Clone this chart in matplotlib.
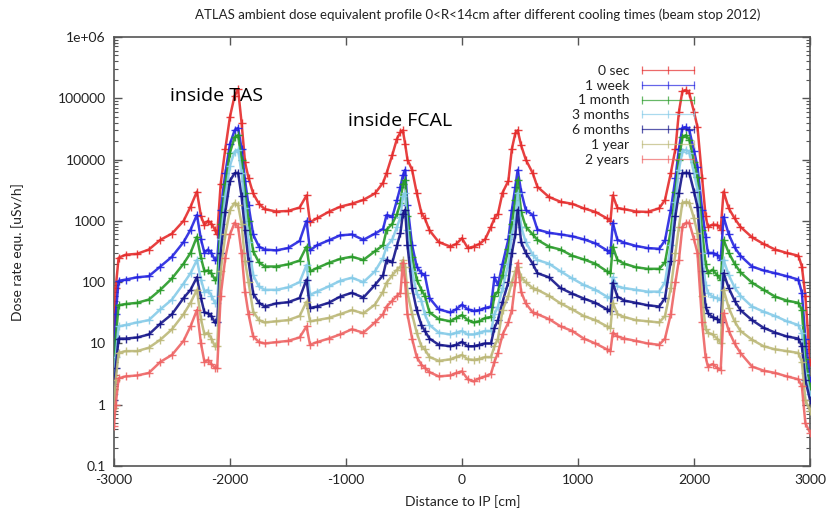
import matplotlib
matplotlib.use('Agg')
import matplotlib.pyplot as plt
from matplotlib.lines import Line2D
from matplotlib.ticker import FixedLocator, LogLocator, NullFormatter

# distance to IP [cm]
distance = [-3000, -2985, -2960, -2900, -2800, -2700, -2600, -2500, -2400, -2340,
            -2285, -2250, -2220, -2190, -2160, -2130, -2110, -2080, -2040, -2000,
            -1960, -1930, -1900, -1870, -1840, -1800, -1750, -1700, -1600, -1500,
            -1400, -1340, -1310, -1250, -1150, -1050, -950, -850, -750, -680,
            -650, -600, -560, -530, -510, -490, -470, -430, -390, -350,
            -320, -280, -200, -100, -50, 0, 50, 100, 150, 200,
            250, 280, 310, 350, 400, 430, 460, 480, 510, 550,
            610, 650, 750, 850, 950, 1050, 1150, 1250, 1280, 1300,
            1340, 1400, 1500, 1600, 1700, 1750, 1800, 1840, 1870, 1900,
            1930, 1960, 2000, 2030, 2070, 2100, 2120, 2160, 2200, 2230,
            2255, 2300, 2350, 2400, 2500, 2600, 2700, 2800, 2900, 2930,
            2960, 3000]

# dose rate [uSv/h] per cooling time
dose_0sec = [3, 80, 250, 280, 290, 340, 490, 620, 1000, 1700,
             3000, 1200, 850, 1000, 900, 716, 600, 4000, 15000, 50000,
             110000, 140000, 40000, 9000, 5000, 2800, 1900, 1550, 1420, 1450,
             1650, 2600, 950, 1100, 1400, 1700, 1900, 2200, 2800, 4200,
             6000, 12000, 22000, 28000, 30000, 18000, 10000, 6800, 2850, 1350,
             1100, 700, 450, 380, 420, 520, 360, 380, 420, 500,
             800, 1100, 1300, 2900, 4500, 15000, 27000, 30000, 17000, 10000,
             6000, 3600, 2450, 2050, 1900, 1600, 1400, 1100, 1000, 2600,
             1620, 1550, 1420, 1400, 1600, 2200, 6000, 15000, 60000, 130000,
             137000, 120000, 60000, 34000, 5000, 1200, 800, 870, 860, 720,
             3000, 1600, 1100, 800, 540, 420, 340, 300, 270, 180,
             60, 5]
dose_1week = [2.2, 30, 105, 110, 120, 125, 180, 260, 450, 716,
              1250, 500, 300, 340, 300, 230, 230, 1500, 6000, 18000,
              30000, 33000, 15000, 4500, 1800, 600, 380, 340, 330, 360,
              470, 1000, 330, 400, 480, 580, 600, 490, 620, 740,
              1250, 1160, 2200, 3600, 5500, 6800, 1800, 400, 180, 140,
              130, 55, 36, 32, 36, 43, 36, 34, 35, 38,
              40, 120, 90, 200, 500, 1500, 3600, 6800, 3000, 1500,
              1250, 720, 640, 600, 560, 500, 430, 330, 300, 930,
              490, 440, 390, 360, 350, 480, 1500, 5000, 15000, 33000,
              34000, 30000, 14000, 7700, 1520, 550, 300, 300, 280, 230,
              1160, 600, 370, 270, 180, 155, 140, 125, 110, 67,
              12, 2.5]
dose_1month = [1.8, 12, 42, 44, 46, 52, 75, 115, 200, 300,
               550, 250, 150, 155, 140, 110, 110, 900, 4000, 13000,
               23000, 25000, 10000, 2800, 1000, 320, 210, 180, 180, 195,
               225, 380, 150, 170, 205, 240, 260, 230, 320, 400,
               716, 900, 1300, 1970, 4000, 4700, 1200, 260, 110, 75,
               60, 32, 25, 23, 26, 29, 24, 22, 23, 26,
               27, 60, 70, 130, 350, 900, 2200, 4700, 1400, 800,
               600, 490, 380, 340, 270, 235, 200, 150, 140, 380,
               230, 200, 175, 165, 165, 210, 700, 3000, 10000, 23000,
               25000, 21000, 9000, 5200, 700, 200, 140, 160, 130, 110,
               490, 300, 200, 145, 98, 75, 58, 50, 46, 35,
               5.5, 2]
dose_3months = [1.5, 6, 19, 20, 22, 24, 36, 52, 95, 140,
                230, 110, 70, 75, 60, 46, 46, 500, 2500, 8000,
                13500, 14500, 6000, 1600, 450, 130, 85, 75, 75, 82,
                100, 190, 62, 70, 85, 105, 118, 100, 150, 250,
                380, 500, 800, 1160, 2500, 2850, 700, 150, 65, 50,
                30, 20, 15, 14, 15, 16, 14, 14, 15, 16,
                16, 30, 40, 80, 200, 600, 1050, 2850, 800, 450,
                280, 230, 200, 150, 115, 90, 75, 58, 55, 120,
                85, 80, 75, 70, 70, 100, 400, 2000, 6800, 13500,
                14500, 13000, 6000, 3200, 300, 90, 67, 58, 55, 52,
                230, 130, 82, 60, 40, 33, 28, 23, 20, 15,
                3.3, 1.5]
dose_6months = [1.2, 4, 12, 12, 12.5, 14, 21, 30, 55, 75,
                120, 55, 32, 31, 28, 22, 22, 300, 1400, 4500,
                6000, 6100, 2500, 700, 220, 65, 46, 40, 45, 47,
                55, 110, 38, 40, 46, 58, 67, 56, 90, 130,
                230, 210, 400, 640, 1300, 1520, 400, 80, 35, 20,
                16, 12, 9.5, 9, 9.5, 10.6, 9, 9, 9.5, 10,
                10, 18, 24, 48, 100, 300, 600, 1520, 450, 300,
                200, 140, 120, 80, 65, 54, 46, 36, 34, 98,
                58, 50, 46, 42, 40, 55, 220, 1200, 2850, 6000,
                6100, 6000, 3000, 1700, 150, 40, 31, 27, 25, 22,
                140, 80, 50, 35, 24, 18, 15, 13, 12, 9,
                2.5, 1.2]
dose_1year = [0.9, 2.5, 7, 7.5, 7.5, 8.5, 11.5, 17, 30, 46,
              75, 25, 14, 15, 12, 9, 9, 150, 600, 1500,
              1970, 1800, 900, 220, 100, 33, 24, 22, 23, 24,
              28, 48, 23, 24, 26, 30, 35, 31, 43, 70,
              98, 130, 160, 180, 230, 180, 67, 30, 15, 9,
              8, 6, 5.2, 5.5, 6, 6.5, 5.5, 5.4, 5.6, 6,
              6, 9, 12, 35, 60, 100, 150, 180, 120, 100,
              80, 75, 60, 45, 36, 28, 24, 19, 18, 46,
              30, 27, 24, 23, 22, 28, 80, 300, 800, 1970,
              2050, 1970, 1100, 640, 60, 17, 15, 14, 12, 10,
              75, 38, 23, 16, 11.5, 9, 8, 7.5, 7, 5,
              1.2, 0.8]
dose_2years = [0.45, 1.0, 2.7, 2.9, 3.0, 3.3, 5, 6.5, 11, 19,
               35, 10, 5, 5.4, 4.6, 4, 4, 60, 250, 600,
               930, 800, 300, 70, 30, 13, 10.5, 10, 10.5, 11,
               12.5, 19, 9.5, 10.5, 12, 14, 17, 15, 22, 30,
               40, 50, 60, 67, 207, 100, 30, 12, 6, 4.5,
               4, 3.4, 2.9, 3.0, 3.3, 3.5, 2.6, 2.4, 2.7, 2.9,
               3.2, 5, 7, 14, 22, 35, 100, 207, 70, 45,
               32, 30, 25, 19, 16, 12, 10, 8, 7.5, 15,
               13, 12, 11, 10, 9.5, 12, 30, 100, 230, 800,
               930, 930, 500, 300, 22, 6, 4.2, 4.6, 4.0, 3.7,
               31, 16, 10, 7, 4.2, 3.6, 3.3, 2.9, 2.6, 2.0,
               0.5, 0.35]

labels = ['0 sec', '1 week', '1 month', '3 months', '6 months', '1 year', '2 years']
series = [dose_0sec, dose_1week, dose_1month, dose_3months,
          dose_6months, dose_1year, dose_2years]
colors = ['#e52b2b', '#2424e0', '#279a27', '#86cbe8', '#14148a', '#bcb878', '#ee6464']

ytick_vals = [0.1, 1, 10, 100, 1000, 10000, 100000, 1e6]
ytick_text = ['0.1', '1', '10', '100', '1000', '10000', '100000', '1e+06']
xtick_vals = [-3000, -2000, -1000, 0, 1000, 2000, 3000]

plt.rcParams['font.family'] = ['Lato', 'DejaVu Sans']
TEXT = '#222222'
FRAME = '#555555'

fig = plt.figure(figsize=(8.3, 5.19), dpi=100)
ax = fig.add_axes([0.1373, 0.1021, 0.8386, 0.8266])

for vals, col in zip(series, colors):
    ax.plot(distance, vals, color=col, lw=1.8, marker='+', ms=6, mew=1.0,
            alpha=0.9, zorder=3)

ax.set_yscale('log')
ax.set_xlim(-3000, 3000)
ax.set_ylim(0.1, 1e6)
ax.yaxis.set_major_locator(FixedLocator(ytick_vals))
ax.set_yticklabels(ytick_text)
ax.yaxis.set_minor_locator(LogLocator(base=10, subs=range(2, 10)))
ax.yaxis.set_minor_formatter(NullFormatter())
ax.set_xticks(xtick_vals)
ax.set_xticklabels([str(v) for v in xtick_vals])

ax.tick_params(which='both', direction='in', top=True, right=True,
               colors=FRAME, labelcolor=TEXT, labelsize=10)
ax.tick_params(which='major', length=6, width=1)
ax.tick_params(which='minor', length=3, width=0.8)
ax.tick_params(axis='y', pad=6)
ax.tick_params(axis='x', pad=6)
for sp in ax.spines.values():
    sp.set_color(FRAME)
    sp.set_linewidth(1.2)

# legend (gnuplot style: label then sample)
handles = [Line2D([], [], color=c, lw=0.9, marker='|', ms=6, mew=0.9, alpha=0.7)
           for c in colors]
ax.legend(handles, labels, loc='upper right', bbox_to_anchor=(0.848, 0.948),
          frameon=False, markerfirst=False, numpoints=3, handlelength=4.4,
          handletextpad=0.6, labelspacing=0.2, fontsize=10,
          borderaxespad=0, labelcolor=TEXT)

# annotations
ax.text(-2520, 90000, 'inside TAS', fontsize=14, color='black',
        family=['Open Sans', 'DejaVu Sans'], va='baseline')
ax.text(-980, 35000, 'inside FCAL', fontsize=14, color='black',
        family=['Open Sans', 'DejaVu Sans'], va='baseline')

fig.text(0.576, 0.972,
         'ATLAS ambient dose equivalent profile 0<R<14cm after different cooling times (beam stop 2012)',
         ha='center', va='center', fontsize=9.5, color=TEXT)
fig.text(0.557, 0.034, 'Distance to IP [cm]', ha='center', va='center',
         fontsize=10, color=TEXT)
fig.text(0.021, 0.515, 'Dose rate equ. [uSv/h]', ha='center', va='center',
         rotation=90, fontsize=10, color=TEXT)

fig.savefig('out.png', dpi=100, facecolor='white')
